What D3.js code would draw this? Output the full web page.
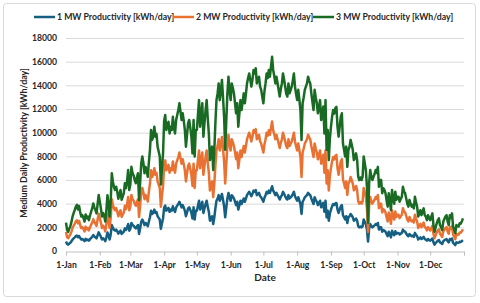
<!DOCTYPE html>
<html>
<head>
<meta charset="utf-8">
<style>
  body { margin: 0; background: #fff; font-family: Lato, sans-serif; }
  svg text { font-weight: bold; fill: #262626; font-family: Lato, sans-serif; }
</style>
</head>
<body>
<svg id="chart"></svg>
<script src="https://cdnjs.cloudflare.com/ajax/libs/d3/7.8.5/d3.min.js"></script>
<script>

// daily values, 1 Jan .. 31 Dec (one row per month)
var startDate = new Date(2023, 0, 1);

var mw1 = [
800,590,540,630,700,820,970,1070,1150,1250,1300,1170,1270,1100,970,1010,930,830,1030,920,970,870,1000,1100,1200,1340,1230,1150,1060,1330,1580,
1390,1200,970,1070,1000,830,1130,1570,1330,970,1400,2190,1950,1800,1720,1810,1670,1470,1600,1720,1440,1530,1630,1910,1770,1970,2280,1720,
1870,2370,2200,2130,2000,1910,2070,2190,1440,1930,2470,2660,2470,2190,2370,2270,2090,2500,2850,3410,3130,3220,3500,3220,3300,2940,2800,2660,1870,2330,2750,
3670,3830,3410,3530,3640,3310,3500,3410,3780,3470,3310,3690,3830,3970,4160,3930,3690,3880,3670,3410,2940,3270,3600,3690,3470,3220,2750,3690,2660,3410,
3410,3830,4250,3500,3830,4160,3220,3600,3970,4250,3730,3310,2560,2800,2940,2280,2830,3600,4250,4430,4720,4250,4500,4820,4330,3780,2850,3670,4440,4910,4500,
4250,4720,4600,4440,4170,3880,4160,3500,3870,4250,3970,4200,4440,4160,4430,4720,4870,5000,4820,4630,4830,5100,5000,5150,4720,4830,4910,4630,4540,4350,
4160,4500,4720,5000,4870,5100,4910,5190,5470,5100,4930,4720,4910,4730,4540,4350,4570,4720,5000,4830,4630,4430,4350,4720,4440,4530,4630,4800,5000,4630,4430,
4250,4540,4270,3970,3130,4160,4330,4540,4630,4720,4910,4800,4720,4440,4200,3970,4540,4330,4160,3880,4070,4250,3690,3870,4070,3310,4250,2850,3410,2560,3170,
3500,3780,3970,3870,4020,4060,3500,3220,3500,3780,3880,3030,2850,2660,2940,2370,2850,2930,3130,3000,2850,2560,2630,2750,2560,2090,2000,2070,2000,2090,
2660,2470,2270,1810,800,1910,2280,2100,2000,2090,2170,2280,2200,2370,1810,2000,2000,1630,1770,1720,1630,1430,1250,1630,1400,1150,1720,1480,1330,1670,1440,
1530,1530,1390,1470,1530,1810,1670,1630,1480,1330,1250,1440,1330,1250,1300,1200,1530,1370,1250,970,1070,1150,1010,1100,1200,1010,970,870,1010,930,
870,970,1060,730,540,670,780,870,920,730,670,590,830,900,970,1010,830,730,1010,930,1060,690,600,500,730,700,690,780,770,830,920
];

var mw2 = [
1600,1180,1080,1260,1400,1640,1940,2140,2300,2500,2600,2340,2540,2200,1940,2020,1860,1660,2060,1840,1940,1740,2000,2200,2400,2680,2460,2300,2120,2660,3160,
2780,2400,1940,2140,2000,1660,2260,3140,2660,1940,2800,4380,3900,3600,3440,3620,3340,2940,3200,3440,2880,3060,3260,3820,3540,3940,4560,3440,
3740,4740,4400,4260,4000,3820,4140,4380,2880,3860,4940,5320,4940,4380,4740,4540,4180,5000,5700,6820,6260,6440,7000,6440,6600,5880,5600,5320,3740,4660,5500,
7340,7660,6820,7060,7280,6620,7000,6820,7560,6940,6620,7380,7660,7940,8320,7860,7380,7760,7340,6820,5880,6540,7200,7380,6940,6440,5500,7380,5320,6820,
6820,7660,8500,7000,7660,8320,6440,7200,7940,8500,7460,6620,5120,5600,5880,4560,5660,7200,8500,8860,9440,8500,9000,9640,8660,7560,5700,7340,8880,9820,9000,
8500,9440,9200,8880,8340,7760,8320,7000,7740,8500,7940,8400,8880,8320,8860,9440,9740,10000,9640,9260,9660,10200,10000,10300,9440,9660,9820,9260,9080,8700,
8320,9000,9440,10000,9740,10200,9820,10380,10940,10200,9860,9440,9820,9460,9080,8700,9140,9440,10000,9660,9260,8860,8700,9440,8880,9060,9260,9600,10000,9260,8860,
8500,9080,8540,7940,6260,8320,8660,9080,9260,9440,9820,9600,9440,8880,8400,7940,9080,8660,8320,7760,8140,8500,7380,7740,8140,6620,8500,5700,6820,5120,6340,
7000,7560,7940,7740,8040,8120,7000,6440,7000,7560,7760,6060,5700,5320,5880,4740,5700,5860,6260,6000,5700,5120,5260,5500,5120,4180,4000,4140,4000,4180,
5320,4940,4540,3620,1600,3820,4560,4200,4000,4180,4340,4560,4400,4740,3620,4000,4000,3260,3540,3440,3260,2860,2500,3260,2800,2300,3440,2960,2660,3340,2880,
3060,3060,2780,2940,3060,3620,3340,3260,2960,2660,2500,2880,2660,2500,2600,2400,3060,2740,2500,1940,2140,2300,2020,2200,2400,2020,1940,1740,2020,1860,
1740,1940,2120,1460,1080,1340,1560,1740,1840,1460,1340,1180,1660,1800,1940,2020,1660,1460,2020,1860,2120,1380,1200,1000,1460,1400,1380,1560,1540,1660,1840
];

var mw3 = [
2400,1770,1620,1890,2100,2460,2910,3210,3450,3750,3900,3510,3810,3300,2910,3030,2790,2490,3090,2760,2910,2610,3000,3300,3600,4020,3690,3450,3180,3990,4740,
4170,3600,2910,3210,3000,2490,3390,4710,3990,2910,4200,6570,5850,5400,5160,5430,5010,4410,4800,5160,4320,4590,4890,5730,5310,5910,6840,5160,
5610,7110,6600,6390,6000,5730,6210,6570,4320,5790,7410,7980,7410,6570,7110,6810,6270,7500,8550,10230,9390,9660,10500,9660,9900,8820,8400,7980,5610,6990,8250,
11010,11490,10230,10590,10920,9930,10500,10230,11340,10410,9930,11070,11490,11910,12480,11790,11070,11640,11010,10230,8820,9810,10800,11070,10410,9660,8250,11070,7980,10230,
10230,11490,12750,10500,11490,12480,9660,10800,11910,12750,11190,9930,7680,8400,8820,6840,8490,10800,12750,13290,14160,12750,13500,14460,12990,11340,8550,11010,13320,14730,13500,
12750,14160,13800,13320,12510,11640,12480,10500,11610,12750,11910,12600,13320,12480,13290,14160,14610,15000,14460,13890,14490,15300,15000,15450,14160,14490,14730,13890,13620,13050,
12480,13500,14160,15000,14610,15300,14730,15570,16410,15300,14790,14160,14730,14190,13620,13050,13710,14160,15000,14490,13890,13290,13050,14160,13320,13590,13890,14400,15000,13890,13290,
12750,13620,12810,11910,9390,12480,12990,13620,13890,14160,14730,14400,14160,13320,12600,11910,13620,12990,12480,11640,12210,12750,11070,11610,12210,9930,12750,8550,10230,7680,9510,
10500,11340,11910,11610,12060,12180,10500,9660,10500,11340,11640,9090,8550,7980,8820,7110,8550,8790,9390,9000,8550,7680,7890,8250,7680,6270,6000,6210,6000,6270,
7980,7410,6810,5430,2400,5730,6840,6300,6000,6270,6510,6840,6600,7110,5430,6000,6000,4890,5310,5160,4890,4290,3750,4890,4200,3450,5160,4440,3990,5010,4320,
4590,4590,4170,4410,4590,5430,5010,4890,4440,3990,3750,4320,3990,3750,3900,3600,4590,4110,3750,2910,3210,3450,3030,3300,3600,3030,2910,2610,3030,2790,
2610,2910,3180,2190,1620,2010,2340,2610,2760,2190,2010,1770,2490,2700,2910,3030,2490,2190,3030,2790,3180,2070,1800,1500,2190,2100,2070,2340,2310,2490,2760
];

var seriesNames = ["1 MW Productivity [kWh/day]", "2 MW Productivity [kWh/day]", "3 MW Productivity [kWh/day]"];
var seriesColors = ["#156082", "#E97132", "#196B24"];
var yTicks = [0, 2000, 4000, 6000, 8000, 10000, 12000, 14000, 16000, 18000];

var width = 480, height = 303;

var svg = d3.select('#chart')
    .attr('width', width)
    .attr('height', height);

// chart frame
svg.append('rect')
    .attr('x', 3.5).attr('y', 3.5)
    .attr('width', 472).attr('height', 293)
    .attr('rx', 3)
    .attr('fill', '#fff')
    .attr('stroke', '#d9d9d9');

var x = d3.scaleTime()
    .domain([startDate, d3.timeYear.offset(startDate, 1)])
    .range([66, 464]);

var y = d3.scaleLinear()
    .domain([0, 18000])
    .range([251, 38]);

// gridlines
svg.append('g')
  .selectAll('line')
  .data(yTicks.slice(1))
  .enter().append('line')
    .attr('x1', x.range()[0]).attr('x2', x.range()[1])
    .attr('y1', d => y(d) + 0.5).attr('y2', d => y(d) + 0.5)
    .attr('stroke', '#d9d9d9');

// y axis labels
var yaxis = svg.append('g')
    .attr('transform', 'translate(61,0)')
    .call(d3.axisLeft(y).tickValues(yTicks).tickSize(0).tickPadding(4).tickFormat(d3.format('d')));
yaxis.select('.domain').remove();
yaxis.selectAll('text')
    .attr('font-size', '8.6px')
    .attr('font-family', 'Lato, sans-serif');

// x axis
var months = d3.timeMonth.range(startDate, d3.timeDay.offset(d3.timeYear.offset(startDate, 1), 1));
var xaxis = svg.append('g')
    .attr('transform', 'translate(0,' + (y(0) + 0.5) + ')')
    .call(d3.axisBottom(x)
        .tickValues(months)
        .tickSize(4)
        .tickPadding(6)
        .tickFormat((d, i) => i < 12 ? d3.timeFormat('%-d-%b')(d) : ''));
xaxis.select('.domain').attr('stroke', '#bfbfbf');
xaxis.selectAll('.tick line').attr('stroke', '#bfbfbf');
xaxis.selectAll('text')
    .attr('font-size', '8.6px')
    .attr('font-family', 'Lato, sans-serif');

// lines
var series = [mw1, mw2, mw3];
var line = d3.line()
    .x((d, i) => x(d3.timeDay.offset(startDate, i)))
    .y(d => y(d));

svg.append('g')
  .selectAll('path')
  .data(series)
  .enter().append('path')
    .attr('d', line)
    .attr('fill', 'none')
    .attr('stroke', (d, i) => seriesColors[i])
    .attr('stroke-width', 2.5)
    .attr('stroke-linejoin', 'round');

// axis titles
svg.append('text')
    .text("Date")
    .attr('x', 265).attr('y', 281)
    .attr('text-anchor', 'middle')
    .attr('font-size', '10px');

svg.append('text')
    .text("Medium Daily Productivity [kWh/day]")
    .attr('transform', 'translate(27,143) rotate(-90)')
    .attr('text-anchor', 'middle')
    .attr('font-size', '8.9px');

// legend
var legendX = [34, 173, 313];
var legend = svg.append('g')
  .selectAll('g')
  .data(seriesNames)
  .enter().append('g')
    .attr('transform', (d, i) => 'translate(' + legendX[i] + ',17)');
legend.append('line')
    .attr('x1', 0).attr('x2', 21)
    .attr('stroke', (d, i) => seriesColors[i])
    .attr('stroke-width', 2.5);
legend.append('text')
    .text(d => d)
    .attr('x', 23).attr('dy', '0.35em')
    .attr('font-size', '8.7px');

</script>
</body>
</html>
